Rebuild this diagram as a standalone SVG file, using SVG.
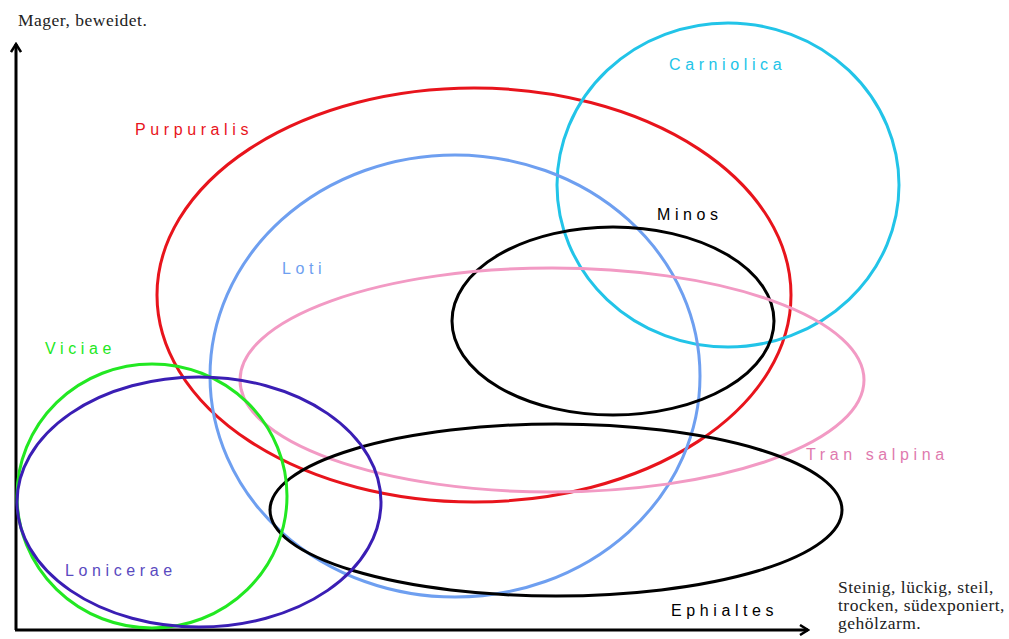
<svg xmlns="http://www.w3.org/2000/svg" width="1009" height="639" viewBox="0 0 1009 639">
<style>
.e{fill:none;stroke-width:3}
.l{font-family:"Liberation Sans",Arial,sans-serif;font-size:16px;letter-spacing:4.6px}
.s{font-family:"Liberation Serif","Times New Roman",serif;font-size:17.5px;letter-spacing:0.5px;fill:#222}
.ax{stroke:#000;stroke-width:3;fill:none}
</style>
<defs>
<marker id="arr" viewBox="0 0 12 12" refX="10" refY="6" markerWidth="12" markerHeight="12" markerUnits="userSpaceOnUse" orient="auto">
<path d="M2,1 L10,6 L2,11" fill="none" stroke="#000" stroke-width="2.5"/>
</marker>
</defs>
<rect width="1009" height="639" fill="#fff"/>
<g id="axes">
<line class="ax" x1="16" y1="630" x2="16" y2="44" marker-end="url(#arr)"/>
<line class="ax" x1="15" y1="630" x2="808" y2="630" marker-end="url(#arr)"/>
<text class="s" x="18" y="26">Mager, beweidet.</text>
<text class="s" x="838" y="593">Steinig, lückig, steil,</text>
<text class="s" x="838" y="611">trocken, südexponiert,</text>
<text class="s" x="838" y="629">gehölzarm.</text>
</g>
<g id="purpuralis">
<ellipse class="e" cx="474" cy="295" rx="317" ry="207" stroke="#e8141c"/>
<text class="l" x="135" y="135" fill="#e8141c">Purpuralis</text>
</g>
<g id="carniolica">
<ellipse class="e" cx="728" cy="185" rx="171" ry="162" stroke="#22c4e8"/>
<text class="l" x="669" y="70" fill="#22c4e8">Carniolica</text>
</g>
<g id="loti">
<ellipse class="e" cx="455" cy="376" rx="245" ry="221" stroke="#6e9ff0"/>
<text class="l" x="282" y="274" fill="#6e9ff0">Loti</text>
</g>
<g id="minos">
<ellipse class="e" cx="613" cy="321" rx="161" ry="94" stroke="#000"/>
<text class="l" x="657" y="220" fill="#000">Minos</text>
</g>
<g id="transalpina">
<ellipse class="e" cx="552" cy="380" rx="312" ry="112" stroke="#f29ac4"/>
<text class="l" x="806" y="460" fill="#e07aae" letter-spacing="4">Tran salpina</text>
</g>
<g id="ephialtes">
<ellipse class="e" cx="556" cy="510" rx="286" ry="86" stroke="#000"/>
<text class="l" x="671" y="616" fill="#000">Ephialtes</text>
</g>
<g id="viciae">
<ellipse class="e" cx="152" cy="496" rx="135" ry="132" stroke="#22e822"/>
<text class="l" x="45" y="354" fill="#22e822">Viciae</text>
</g>
<g id="lonicerae">
<ellipse class="e" cx="199" cy="502" rx="182" ry="125" stroke="#3a1eb4"/>
<text class="l" x="65" y="576" fill="#5a4ac0">Lonicerae</text>
</g>
<g id="connectors"></g>
</svg>
